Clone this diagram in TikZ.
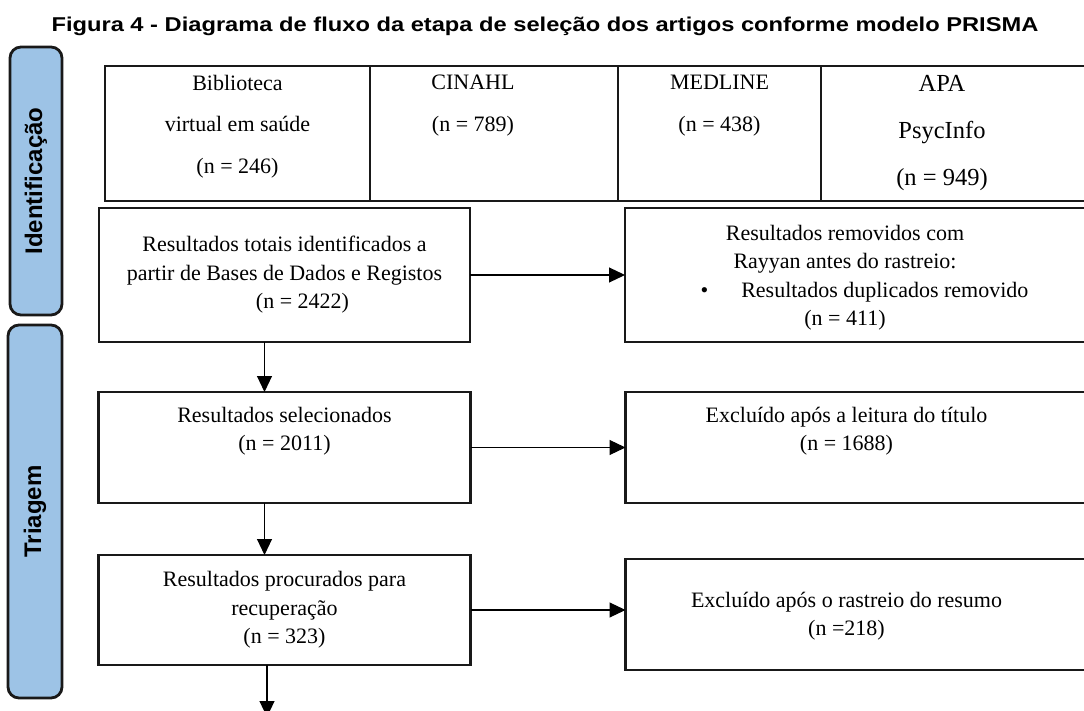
\documentclass[tikz,border=0pt]{standalone}
\usepackage{fontspec}
\setmainfont{Liberation Serif}
\setsansfont{Liberation Sans}
\usetikzlibrary{arrows.meta,positioning}
\definecolor{bandblue}{RGB}{157,195,230}

\begin{document}
\begin{tikzpicture}[x=1pt, y=-1pt,
	box/.style={draw=black!90, line width=2.6pt, inner sep=0pt, outer sep=0pt, align=center, font=\fontsize{22}{28.5}\selectfont},
	boxtext/.style={inner sep=0pt, align=center, font=\fontsize{22}{28.5}\selectfont},
	cell/.style={draw=black!90, line width=2.4pt, inner sep=0pt, outer sep=0pt, minimum height=135pt},
	celltext/.style={anchor=north, inner sep=0pt, align=center, font=\fontsize{22}{41.5}\selectfont},
	band/.style={draw=black!90, fill=bandblue, line width=2.8pt, rounded corners=11pt, inner sep=0pt, rotate=90, font=\sffamily\bfseries\fontsize{24}{24}\selectfont},
	flow/.style={line width=1.1pt, -{Triangle[length=16pt,width=15pt]}}]
	\path[use as bounding box] (0,0) rectangle (1084,711);
	\clip (0,0) rectangle (1084,711);

	\node[font=\sffamily\bfseries\fontsize{20}{20}\selectfont, anchor=base, xscale=1.184, transform shape] (title) at (545,31.5) {Figura 4 - Diagrama de fluxo da etapa de seleção dos artigos conforme modelo PRISMA};

	\node[band, minimum width=268pt, minimum height=52pt] (ident) at (36,181) {Identificação};
	\node[band, minimum width=373pt, minimum height=54pt] (triagem) at (35,511.5) {Triagem};

	\node[cell, minimum width=265pt, anchor=north west] (bvs) at (105,66) {};
	\node[cell, minimum width=248pt, right=0pt of bvs] (cinahl) {};
	\node[cell, minimum width=203pt, right=0pt of cinahl] (medline) {};
	\node[cell, minimum width=300pt, right=0pt of medline] (apa) {};
	\node[celltext] at ([yshift=-9pt]bvs.north) {Biblioteca\\virtual em saúde\\(n = 246)};
	\node[celltext] at ([xshift=-21pt, yshift=-9pt]cinahl.north) {CINAHL\\(n = 789)};
	\node[celltext] at ([yshift=-9pt]medline.north) {MEDLINE\\(n = 438)};
	\node[celltext, font=\fontsize{24.5}{47}\selectfont] at ([xshift=121pt, yshift=-9pt]apa.north west) {APA\\PsycInfo\\(n = 949)};

	\node[box, minimum width=371pt, minimum height=134pt] (total) at (284.5,275) {Resultados totais identificados a\\partir de Bases de Dados e Registos\\\hspace*{36pt}(n = 2422)};
	\node[box, minimum width=372pt, minimum height=111pt, below=50pt of total] (sel) {Resultados selecionados\\(n = 2011)\\\strut};
	\node[box, minimum width=372pt, minimum height=110pt, below=52pt of sel] (proc) {Resultados procurados para\\recuperação\\(n = 323)};

	\node[box, minimum width=485pt, minimum height=134pt, right=155pt of total] (rem) {};
	\node[box, minimum width=485pt, minimum height=111pt, right=155pt of sel] (exc1) {};
	\node[box, minimum width=485pt, minimum height=111pt, right=155pt of proc, yshift=-4.5pt] (exc2) {};
	\node[boxtext] at ([xshift=220pt, yshift=-2.5pt]rem.west) {Resultados removidos com\\Rayyan antes do rastreio:\\\hspace*{39pt}\textbullet\hspace{33pt}Resultados duplicados removido\\(n = 411)};
	\node[boxtext] at ([xshift=221pt]exc1.west) {Excluído após a leitura do título\\(n = 1688)\\\strut};
	\node[boxtext] at ([xshift=221pt, yshift=-1.5pt]exc2.west) {Excluído após o rastreio do resumo\\(n =218)};

	\draw[flow] (total) -- (rem);
	\draw[flow] (sel.east) -- (sel.east -| exc1.west);
	\draw[flow] (proc.east) -- (proc.east -| exc2.west);
	\draw[flow] ([xshift=-20pt]total.south) -- ([xshift=-20pt]sel.north);
	\draw[flow] ([xshift=-20pt]sel.south) -- ([xshift=-20pt]proc.north);
	\coordinate (next) at (267,717);
	\draw[flow] (proc.south -| next) -- (next);
\end{tikzpicture}
\end{document}
